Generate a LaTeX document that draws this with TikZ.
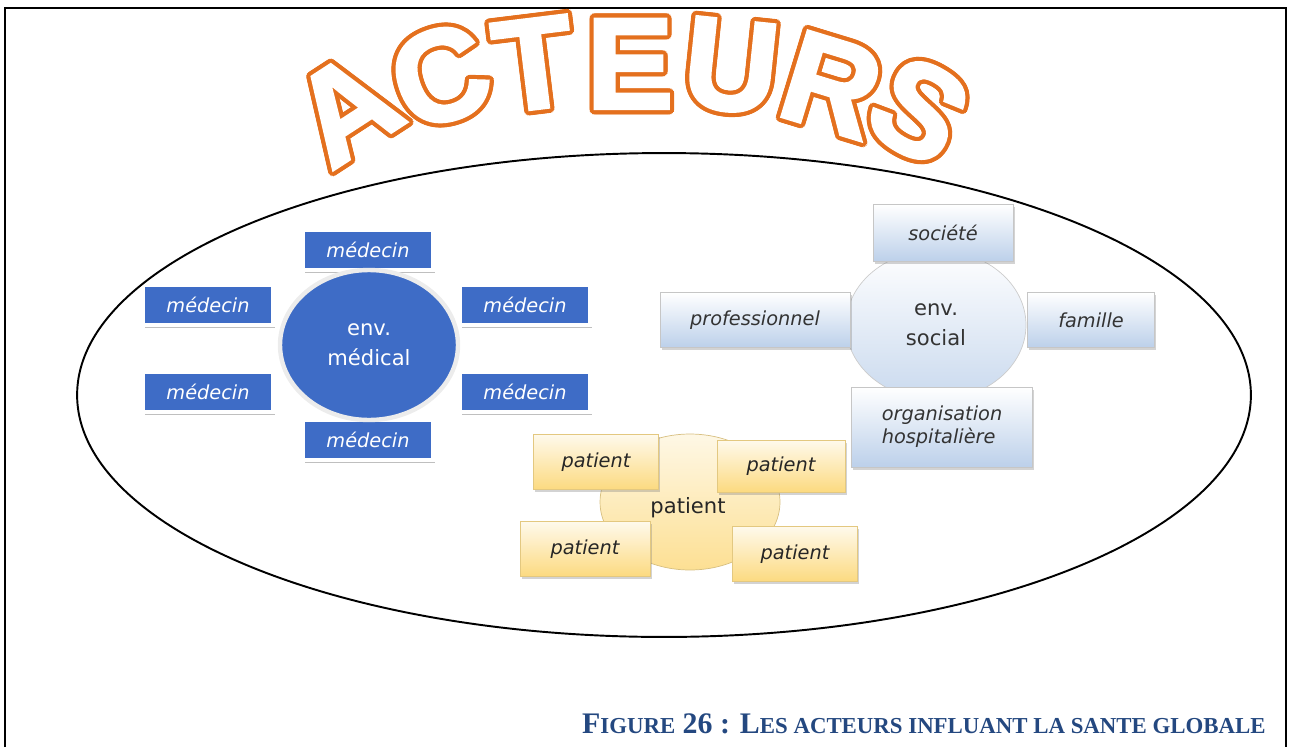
\documentclass[tikz,border=0pt]{standalone}
\usepackage{fontspec}
\setmainfont{Liberation Serif}
\newfontfamily\diagfont{DejaVu Sans}
\newfontfamily\titlefont[BoldFeatures={FakeBold=2.5}]{Liberation Sans}
\usepackage{contour}
\usetikzlibrary{shapes.geometric,shadows}
\definecolor{titleorange}{RGB}{228,112,30}
\definecolor{medblue}{RGB}{62,108,198}
\definecolor{socblue}{RGB}{188,208,234}
\definecolor{patyellow}{RGB}{252,218,128}
\definecolor{captionblue}{RGB}{36,72,128}
\contourlength{2.4pt}
\newcommand{\bigletter}[1]{\contour{titleorange}{\textcolor{white}{#1}}}
\newcommand{\capsmall}[1]{{\fontsize{13}{15}\selectfont #1}}
\begin{document}
\begin{tikzpicture}[x=0.02cm, y=-0.02cm,
	letter/.style={inner sep=0pt, font=\titlefont\bfseries\fontsize{74}{74}\selectfont},
	medbox/.style={shape=rectangle, fill=medblue, draw=white, line width=2.5pt, minimum width=2.6cm, minimum height=0.8cm, text=white, font=\diagfont\itshape\fontsize{11}{13}\selectfont, drop shadow={shadow xshift=1pt, shadow yshift=-1.5pt, fill=gray, opacity=.5}},
	socbox/.style={shape=rectangle, top color=white, bottom color=socblue, draw=gray!45, minimum height=1.1cm, text=black!80, font=\diagfont\itshape\fontsize{11}{13}\selectfont, drop shadow={shadow xshift=1pt, shadow yshift=-1.5pt, fill=gray, opacity=.35}},
	patbox/.style={shape=rectangle, top color=white!85!patyellow, bottom color=patyellow, draw=patyellow!80!gray, minimum width=2.5cm, minimum height=1.1cm, text=black!85, font=\diagfont\itshape\fontsize{11}{13}\selectfont, drop shadow={shadow xshift=1pt, shadow yshift=-1.5pt, fill=gray, opacity=.35}},
	hub/.style={shape=ellipse, minimum width=3.6cm, minimum height=3cm, font=\diagfont\fontsize{12}{17}\selectfont, align=center}]
	\useasboundingbox (0,0) rectangle (1290,747);
	\draw [line width=1.6pt] (5,747) -- (5,8) -- (1286,8) -- (1286,747);
	% title
	\node at (347,110) [letter, rotate=33] (tA) {\bigletter{A}};
	\node at (441,78) [letter, rotate=19] (tC) {\bigletter{C}};
	\node at (534,66) [letter, rotate=7] (tT) {\bigletter{T}};
	\node at (630,66) [letter] (tE) {\bigletter{E}};
	\node at (731,68) [letter, rotate=-6] (tU) {\bigletter{U}};
	\node at (831,87) [letter, rotate=-17] (tR) {\bigletter{R}};
	\node at (918,112) [letter, rotate=-30] (tS) {\bigletter{S}};
	% medical environment
	\node at (368,250) [medbox] (med1) {médecin};
	\node at (208,305) [medbox] (med2) {médecin};
	\node at (525,305) [medbox] (med3) {médecin};
	\node at (208,392) [medbox] (med4) {médecin};
	\node at (525,392) [medbox] (med5) {médecin};
	\node at (368,440) [medbox] (med6) {médecin};
	\node at (369,345) [hub, minimum width=3.56cm, fill=medblue, draw=white!85!gray, line width=2.5pt, text=white] (medical) {env.\\médical};
	% social environment
	\node at (936,325) [hub, top color=white, bottom color=socblue!80, draw=gray!40, text=black!80] (social) {env.\\social};
	\node at (943,233) [socbox, minimum width=2.8cm, minimum height=1.14cm] (societe) {société};
	\node at (755,320) [socbox, minimum width=3.8cm] (pro) {professionnel};
	\node at (1091,320) [socbox, minimum width=2.54cm] (famille) {famille};
	\node at (942,427) [socbox, minimum width=3.62cm, minimum height=1.6cm, align=left] (orga) {organisation\\hospitalière};
	% patient
	\node at (690,502) [hub, minimum height=2.72cm, top color=white!80!patyellow, bottom color=patyellow!85, draw=patyellow!70!gray] (patient) {};
	\node at (596,462) [patbox] (pat1) {patient};
	\node at (781,466) [patbox, minimum width=2.56cm, minimum height=1.04cm] (pat2) {patient};
	\node at (585,549) [patbox, minimum width=2.6cm] (pat3) {patient};
	\node at (795,554) [patbox] (pat4) {patient};
	\node at (688,508) [font=\diagfont\fontsize{12}{14}\selectfont, text=black!85] (patlabel) {patient};
	% outer ellipse
	\draw [line width=1.1pt] (664,395) ellipse [x radius=11.74cm, y radius=4.84cm];
	% caption
	\node at (1266,733) [anchor=base east, inner sep=0pt, text=captionblue, font=\bfseries\fontsize{17}{19}\selectfont] (caption) {F\capsmall{IGURE} 26 : L\capsmall{ES ACTEURS INFLUANT LA SANTE GLOBALE}};
\end{tikzpicture}
\end{document}
